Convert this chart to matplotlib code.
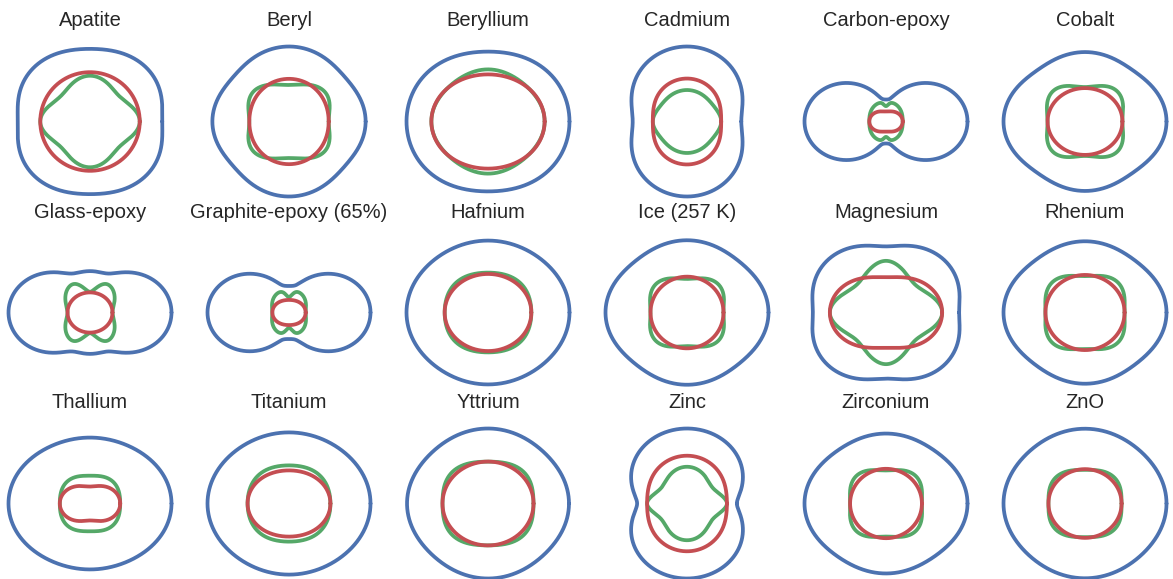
"""
Phase-velocity surfaces (qP, qSV, SH) of hexagonal / transversely
isotropic materials, plotted in the plane containing the symmetry axis
(symmetry axis horizontal). Each panel is normalised by its fastest qP speed.
"""
import numpy as np
import matplotlib
matplotlib.use("Agg")
import matplotlib.pyplot as plt

# ── elastic stiffnesses (GPa), Voigt notation, axis 3 = symmetry axis ─────────
materials = [
    "Apatite", "Beryl", "Beryllium", "Cadmium", "Carbon-epoxy", "Cobalt",
    "Glass-epoxy", "Graphite-epoxy (65%)", "Hafnium", "Ice (257 K)",
    "Magnesium", "Rhenium",
    "Thallium", "Titanium", "Yttrium", "Zinc", "Zirconium", "ZnO",
]
c11 = [167.0, 280.8, 292.3, 115.8, 12.0, 307.0,
       14.0, 20.0, 181.1, 13.93, 54.0, 616.0,
       40.8, 162.4, 77.9, 165.0, 143.4, 209.7]
c33 = [140.0, 248.2, 336.4, 51.4, 140.0, 358.1,
       46.0, 160.0, 196.9, 15.01, 56.0, 683.0,
       52.8, 180.7, 76.9, 61.8, 164.8, 210.9]
c44 = [66.3, 66.6, 162.5, 20.4, 5.9, 75.5,
       3.5, 6.7, 55.7, 3.01, 33.0, 161.0,
       7.26, 46.7, 24.3, 39.6, 32.0, 42.47]
c66 = [77.0, 90.9, 132.8, 38.0, 2.5, 71.0,
       3.3, 4.5, 52.0, 3.43, 15.4, 171.5,
       2.7, 35.2, 24.35, 67.0, 35.3, 44.3]
c13 = [66.0, 67.3, 14.0, 40.6, 8.7, 103.0,
       5.5, 16.0, 66.1, 5.77, 18.0, 206.0,
       29.0, 69.0, 20.0, 50.0, 65.3, 105.1]

COL_QP = "#4C72B0"
COL_QSV = "#55A868"
COL_SH = "#C44E52"
TEXT = "#262626"


def phase_speeds(C11, C33, C44, C66, C13, theta):
    """Christoffel solution; theta measured from the symmetry axis."""
    s2 = np.sin(theta) ** 2
    c2 = np.cos(theta) ** 2
    a = C11 * s2 + C33 * c2 + C44
    d = np.sqrt(((C11 - C44) * s2 - (C33 - C44) * c2) ** 2
                + 4.0 * (C13 + C44) ** 2 * s2 * c2)
    qp = np.sqrt((a + d) / 2.0)
    qsv = np.sqrt(np.clip(a - d, 0, None) / 2.0)
    sh = np.sqrt(C66 * s2 + C44 * c2)
    return qp, qsv, sh


W, H = 1173, 579
fig = plt.figure(figsize=(W / 100, H / 100), dpi=100)

col_x = [90 + 199 * i for i in range(6)]   # panel centres, px from left
row_y = [121.5, 312.5, 503.5]              # panel centres, px from top
rx, ry = 81.5, 75.0                        # px per unit speed
box_w, box_h = 196, 184

theta = np.linspace(0, 2 * np.pi, 1441)

for k, name in enumerate(materials):
    r, c = divmod(k, 6)
    cx, cy = col_x[c], row_y[r]
    ax = fig.add_axes([(cx - box_w / 2) / W, 1 - (cy + box_h / 2) / H,
                       box_w / W, box_h / H])
    qp, qsv, sh = phase_speeds(c11[k], c33[k], c44[k], c66[k], c13[k], theta)
    vmax = qp.max()
    for v, col in ((qp, COL_QP), (qsv, COL_QSV), (sh, COL_SH)):
        v = v / vmax
        ax.plot(v * np.cos(theta), v * np.sin(theta), color=col, lw=2.7,
                solid_capstyle="round")
    ax.set_xlim(-box_w / 2 / rx, box_w / 2 / rx)
    ax.set_ylim(-box_h / 2 / ry, box_h / 2 / ry)
    ax.axis("off")
    fig.text(cx / W, 1 - (cy - 95) / H, name, ha="center", va="baseline",
             fontsize=14.5, color=TEXT, family=["Liberation Sans", "DejaVu Sans"])

fig.savefig("out.png", dpi=100, facecolor="white")
